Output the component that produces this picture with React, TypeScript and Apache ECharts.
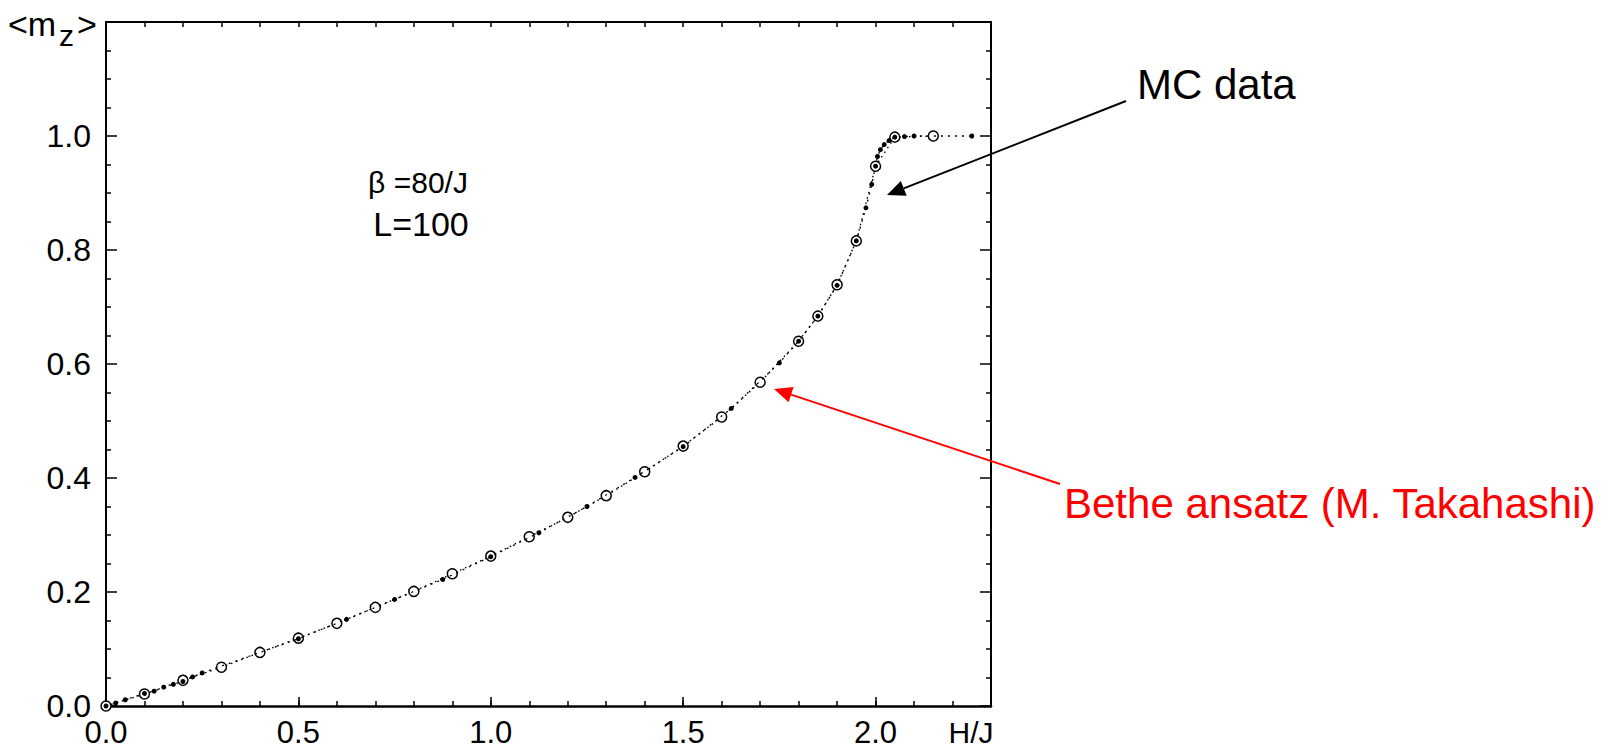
import React, { useEffect, useRef } from "react";
import * as echarts from "echarts";

// Bethe ansatz (M. Takahashi) – open circles
const BETHE_H = [0, 0.1, 0.2, 0.3, 0.4, 0.5, 0.6, 0.7, 0.8, 0.9, 1.0, 1.1, 1.2, 1.3, 1.4, 1.5, 1.6, 1.7, 1.8, 1.85, 1.9, 1.95, 2.0, 2.05, 2.15];
const BETHE_M = [0, 0.021, 0.045, 0.068, 0.094, 0.119, 0.145, 0.173, 0.201, 0.232, 0.263, 0.297, 0.331, 0.369, 0.411, 0.456, 0.507, 0.568, 0.64, 0.684, 0.739, 0.816, 0.947, 0.998, 1.0];

// MC data – small filled dots
const MC_H = [0, 0.025, 0.05, 0.1, 0.125, 0.15, 0.175, 0.2, 0.225, 0.25, 0.5, 0.625, 0.75, 0.875, 1.0, 1.125, 1.25, 1.375, 1.5, 1.625, 1.75, 1.8, 1.85, 1.9, 1.95, 1.975, 1.99, 2.0, 2.005, 2.0125, 2.0225, 2.035, 2.05, 2.075, 2.1, 2.25];
const MC_M = [0, 0.005, 0.011, 0.022, 0.026, 0.033, 0.038, 0.043, 0.051, 0.058, 0.118, 0.152, 0.187, 0.222, 0.262, 0.304, 0.35, 0.401, 0.455, 0.522, 0.602, 0.64, 0.684, 0.738, 0.816, 0.874, 0.915, 0.947, 0.964, 0.976, 0.985, 0.992, 0.998, 0.999, 1.0, 1.0];

const X_MIN = 0;
const X_MAX = 2.3;
const X_MAJOR = 0.5;
const X_MINOR = 0.1;
const Y_MIN = 0;
const Y_MAX = 1.2;
const Y_MAJOR = 0.2;

const FONT = "'Liberation Sans', Arial, Helvetica, sans-serif";

function arrow(x1: number, y1: number, x2: number, y2: number, color: string, len: number, half: number) {
  const dx = x2 - x1;
  const dy = y2 - y1;
  const L = Math.hypot(dx, dy);
  const ux = dx / L;
  const uy = dy / L;
  const bx = x2 - ux * len;
  const by = y2 - uy * len;
  const px = -uy;
  const py = ux;
  return [
    { type: "line", shape: { x1, y1, x2: bx, y2: by }, style: { stroke: color, lineWidth: 2 }, z: 10 },
    {
      type: "polygon",
      shape: { points: [[x2, y2], [bx + px * half, by + py * half], [bx - px * half, by - py * half]] },
      style: { fill: color },
      z: 10,
    },
  ];
}

export default function App() {
  const ref = useRef<HTMLDivElement>(null);
  useEffect(() => {
    if (!ref.current) return;
    const chart = echarts.init(ref.current, null, { renderer: "svg" });
    const axisLineStyle = { color: "#000", width: 2 };
    const tickStyle = { color: "#000", width: 1.5 };
    const isMultiple = (v: number, m: number) => Math.abs(v / m - Math.round(v / m)) < 1e-6;
    const option: any = {
      animation: false,
      backgroundColor: "#fff",
      grid: { left: 106, right: 622, top: 22, bottom: 46, containLabel: false },
      xAxis: [
        {
          type: "value",
          position: "bottom",
          min: X_MIN,
          max: X_MAX,
          interval: X_MAJOR,
          axisLine: { show: true, onZero: false, lineStyle: { color: "#000", width: 2.5 } },
          axisTick: { show: true, inside: true, length: 9, lineStyle: tickStyle },
          axisLabel: {
            show: true,
            margin: 11,
            fontSize: 31,
            fontFamily: FONT,
            color: "#000",
            formatter: (v: number) => (isMultiple(v, X_MAJOR) ? v.toFixed(1) : ""),
          },
          splitLine: { show: false },
        },
        {
          type: "value",
          position: "bottom",
          min: X_MIN,
          max: X_MAX,
          interval: X_MINOR,
          axisLine: { show: false },
          axisTick: { show: true, inside: true, length: 5, lineStyle: tickStyle },
          axisLabel: { show: false },
          splitLine: { show: false },
        },
        {
          type: "value",
          position: "top",
          min: X_MIN,
          max: X_MAX,
          interval: X_MINOR,
          axisLine: { show: true, onZero: false, lineStyle: axisLineStyle },
          axisTick: { show: true, inside: true, length: 5, lineStyle: tickStyle },
          axisLabel: { show: false },
          splitLine: { show: false },
        },
      ],
      yAxis: [
        {
          type: "value",
          position: "left",
          min: Y_MIN,
          max: Y_MAX,
          interval: Y_MAJOR,
          axisLine: { show: true, onZero: false, lineStyle: axisLineStyle },
          axisTick: { show: true, inside: true, length: 11, lineStyle: tickStyle },
          minorTick: { show: true, splitNumber: 4, length: 5, lineStyle: tickStyle },
          axisLabel: {
            show: true,
            margin: 15,
            fontSize: 32,
            fontFamily: FONT,
            color: "#000",
            formatter: (v: number) => (v > 1.1 ? "" : v.toFixed(1)),
          },
          splitLine: { show: false },
        },
        {
          type: "value",
          position: "right",
          min: Y_MIN,
          max: Y_MAX,
          interval: Y_MAJOR,
          axisLine: { show: true, onZero: false, lineStyle: axisLineStyle },
          axisTick: { show: true, inside: true, length: 11, lineStyle: tickStyle },
          minorTick: { show: true, splitNumber: 4, length: 5, lineStyle: tickStyle },
          axisLabel: { show: false },
          splitLine: { show: false },
        },
      ],
      series: [
        {
          name: "Bethe ansatz",
          type: "line",
          xAxisIndex: 0,
          yAxisIndex: 0,
          data: BETHE_H.map((h, i) => [h, BETHE_M[i]]),
          symbol: "circle",
          symbolSize: 10,
          itemStyle: { color: "#fff", borderColor: "#000", borderWidth: 1.5 },
          lineStyle: { color: "#000", width: 1.4, type: [1.5, 4] },
          z: 2,
        },
        {
          name: "MC data",
          type: "line",
          xAxisIndex: 0,
          yAxisIndex: 0,
          data: MC_H.map((h, i) => [h, MC_M[i]]),
          symbol: "circle",
          symbolSize: 5,
          itemStyle: { color: "#000" },
          lineStyle: { color: "#000", width: 1.3, type: [2, 5], dashOffset: 3 },
          z: 3,
        },
      ],
      graphic: [
        { type: "text", x: 8, y: 24, style: { text: "<m", fontSize: 34, fontFamily: FONT, fill: "#000", verticalAlign: "middle" } },
        { type: "text", x: 59, y: 35, style: { text: "z", fontSize: 30, fontFamily: FONT, fill: "#000", verticalAlign: "middle" } },
        { type: "text", x: 77, y: 24, style: { text: ">", fontSize: 34, fontFamily: FONT, fill: "#000", verticalAlign: "middle" } },
        { type: "text", x: 418, y: 182, style: { text: "β =80/J", fontSize: 30, fontFamily: FONT, fill: "#000", align: "center", verticalAlign: "middle" } },
        { type: "text", x: 421, y: 224, style: { text: "L=100", fontSize: 34, fontFamily: FONT, fill: "#000", align: "center", verticalAlign: "middle" } },
        { type: "text", x: 1137, y: 84, style: { text: "MC data", fontSize: 42, fontFamily: FONT, fill: "#000", verticalAlign: "middle" } },
        { type: "text", x: 1064, y: 503, style: { text: "Bethe ansatz (M. Takahashi)", fontSize: 42, fontFamily: FONT, fill: "#ff0000", verticalAlign: "middle" } },
        { type: "text", x: 971, y: 732, style: { text: "H/J", fontSize: 30, fontFamily: FONT, fill: "#000", align: "center", verticalAlign: "middle" } },
        ...arrow(1126, 101, 887, 195, "#000", 18, 8),
        ...arrow(1060, 484, 774, 389, "#ff0000", 18, 8),
      ],
    };
    chart.setOption(option);
    return () => chart.dispose();
  }, []);
  return <div ref={ref} style={{ position: "fixed", left: 0, top: 0, width: 1613, height: 752, background: "#fff" }} />;
}
